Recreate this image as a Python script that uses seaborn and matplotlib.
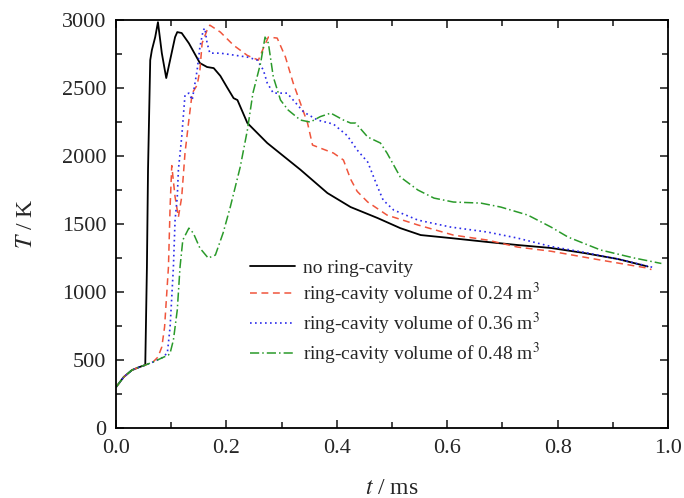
import seaborn as sns
import matplotlib.pyplot as plt
import pandas as pd

# 数据
t_black = [0, 0.014, 0.029, 0.043, 0.053, 0.056, 0.058, 0.062, 0.065, 0.071, 0.076, 0.083, 0.091, 0.098,
           0.107, 0.111, 0.119, 0.132, 0.152, 0.165, 0.177, 0.189, 0.201, 0.213, 0.220, 0.238, 0.274, 0.334,
           0.383, 0.425, 0.474, 0.515, 0.552, 0.606, 0.673, 0.727, 0.788, 0.848, 0.909, 0.963]
T_black = [300, 375, 426, 449, 463, 1184, 1900, 2706, 2780, 2875, 2985, 2757, 2574, 2706,
           2875, 2912, 2905, 2830, 2684, 2655, 2647, 2590, 2507, 2426, 2412, 2243, 2096, 1900,
           1728, 1625, 1544, 1470, 1419, 1397, 1368, 1346, 1324, 1287, 1243, 1188]

t_red = [0, 0.014, 0.029, 0.043, 0.053, 0.067, 0.076, 0.083, 0.088, 0.095, 0.098, 0.101, 0.107, 0.113,
         0.119, 0.125, 0.132, 0.138, 0.147, 0.152, 0.156, 0.165, 0.170, 0.189, 0.213, 0.238, 0.258, 0.267,
         0.276, 0.292, 0.307, 0.321, 0.334, 0.347, 0.356, 0.370, 0.394, 0.412, 0.425, 0.437, 0.456, 0.491,
         0.547, 0.611, 0.673, 0.727, 0.788, 0.878, 0.963, 0.970]
T_red = [300, 375, 426, 449, 463, 485, 522, 596, 743, 1184, 1625, 1930, 1700, 1551,
         1698, 2022, 2265, 2463, 2522, 2632, 2831, 2926, 2963, 2912, 2815, 2740, 2706, 2794,
         2875, 2868, 2728, 2537, 2390, 2243, 2081, 2059, 2022, 1971, 1830, 1740, 1662, 1566,
         1493, 1419, 1382, 1331, 1300, 1235, 1176, 1165]

t_blue = [0, 0.014, 0.029, 0.043, 0.053, 0.067, 0.083, 0.093, 0.098, 0.104, 0.107, 0.111, 0.113, 0.119,
          0.125, 0.132, 0.138, 0.147, 0.152, 0.158, 0.161, 0.165, 0.170, 0.189, 0.213, 0.238, 0.256, 0.267,
          0.274, 0.285, 0.310, 0.321, 0.340, 0.365, 0.394, 0.419, 0.437, 0.456, 0.474, 0.484, 0.503, 0.547,
          0.606, 0.673, 0.727, 0.788, 0.848, 0.909, 0.974]
T_blue = [300, 375, 426, 449, 463, 485, 515, 551, 743, 1184, 1529, 1700, 1897, 2140,
          2449, 2463, 2412, 2632, 2802, 2926, 2941, 2831, 2757, 2757, 2743, 2728, 2706, 2632,
          2537, 2463, 2463, 2412, 2324, 2265, 2235, 2150, 2044, 1956, 1772, 1676, 1603, 1529,
          1478, 1441, 1397, 1335, 1292, 1243, 1180]

t_green = [0, 0.014, 0.029, 0.043, 0.053, 0.067, 0.083, 0.095, 0.098, 0.104, 0.111, 0.116, 0.121, 0.132,
           0.140, 0.152, 0.167, 0.180, 0.194, 0.207, 0.225, 0.238, 0.248, 0.262, 0.270, 0.276, 0.285,
           0.298, 0.312, 0.334, 0.352, 0.370, 0.389, 0.412, 0.425, 0.434, 0.456, 0.479, 0.491, 0.515,
           0.547, 0.576, 0.611, 0.661, 0.697, 0.746, 0.788, 0.819, 0.878, 0.939, 0.988]
T_green = [300, 375, 426, 449, 463, 485, 515, 537, 551, 647, 868, 1184, 1382, 1470,
           1434, 1323, 1250, 1272, 1434, 1625, 1919, 2191, 2463, 2684, 2875, 2831, 2581,
           2412, 2338, 2265, 2250, 2290, 2316, 2265, 2243, 2243, 2140, 2096, 2022, 1846,
           1750, 1691, 1662, 1654, 1625, 1566, 1478, 1404, 1309, 1250, 1210]

labels = ['no ring-cavity',
          r'ring-cavity volume of 0.24 m$^3$',
          r'ring-cavity volume of 0.36 m$^3$',
          r'ring-cavity volume of 0.48 m$^3$']

sns.set_style('ticks')
plt.rcParams['font.family'] = ['Liberation Serif', 'DejaVu Serif']
plt.rcParams['mathtext.fontset'] = 'stix'

fig = plt.figure(figsize=(6.84, 4.98), dpi=100)
ax = fig.add_axes([0.1696, 0.1406, 0.807, 0.819])

series = [(t_black, T_black, 'black', '-', 1.3),
          (t_red, T_red, '#f0553c', (0, (4.5, 3)), 1.1),
          (t_blue, T_blue, '#2b2bea', (0, (1, 2)), 1.2),
          (t_green, T_green, '#2a9a2a', (0, (6, 2, 1, 2)), 1.1)]
for (t, T, c, ls, lw), lab in zip(series, labels):
    df = pd.DataFrame({'t': t, 'T': T})
    sns.lineplot(data=df, x='t', y='T', ax=ax, color=c, linestyle=ls, linewidth=lw,
                 label=lab, sort=False, estimator=None)

ax.set_xlim(0, 1.0)
ax.set_ylim(0, 3000)
ax.set_xticks([0, 0.2, 0.4, 0.6, 0.8, 1.0])
ax.set_xticks([0.1, 0.3, 0.5, 0.7, 0.9], minor=True)
ax.set_yticks(range(0, 3001, 500))
ax.set_yticks(range(250, 3000, 500), minor=True)
ax.set_xticklabels(['0.0', '0.2', '0.4', '0.6', '0.8', '1.0'])
ax.tick_params(which='both', direction='in', top=True, right=True, labelsize=16, width=1.2)
ax.tick_params(axis='y', which='major', pad=7)
ax.tick_params(axis='x', which='major', pad=8)
ax.tick_params(which='major', length=6)
ax.tick_params(which='minor', length=4)
for sp in ax.spines.values():
    sp.set_linewidth(1.3)
    sp.set_color('black')

ax.set_xlabel(r'$t$ / ms', fontsize=17, labelpad=14)
ax.set_ylabel(r'$T$ / K', fontsize=17, labelpad=18)

ax.legend(loc='upper left', bbox_to_anchor=(0.243, 0.413), frameon=False, fontsize=14,
          handlelength=2.3, labelspacing=0.2, handletextpad=0.4, borderpad=0, borderaxespad=0)

plt.savefig('out.png', dpi=100)
